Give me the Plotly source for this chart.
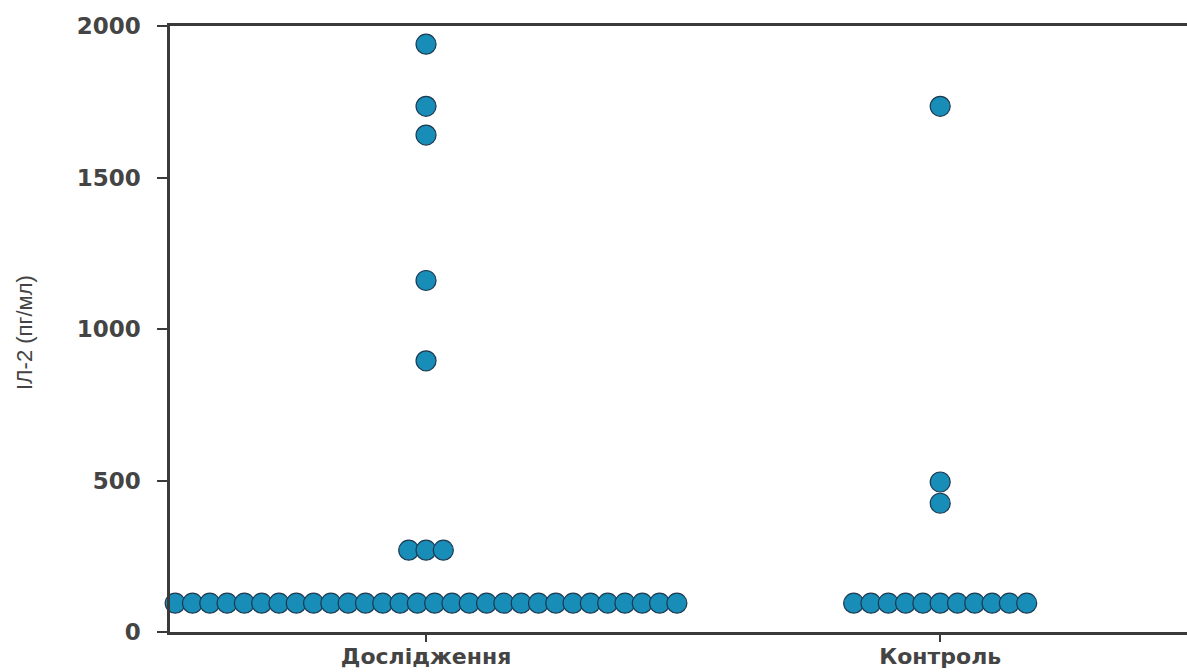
import plotly.graph_objects as go
from collections import Counter

# IL-2 concentrations (pg/ml) per group
categories = ["Дослідження", "Контроль"]
study_values = [95] * 30 + [270, 270, 270, 895, 1160, 1640, 1735, 1940]
control_values = [95] * 11 + [425, 495, 1735]
y_ticks = [0, 500, 1000, 1500, 2000]

W, H = 1187, 672
M_L, M_R, M_T, M_B = 170, 0, 26, 40
X_RANGE = [-0.498, 1.48]
px_per_unit = (W - M_L - M_R) / (X_RANGE[1] - X_RANGE[0])
dot_gap_px = 17.3


def swarm(values, center):
    """Spread identical values side by side around the category centre."""
    counts = Counter(values)
    seen = Counter()
    xs, ys = [], []
    for v in values:
        n = counts[v]
        i = seen[v]
        seen[v] += 1
        off = (i - (n - 1) / 2) * dot_gap_px / px_per_unit
        xs.append(center + off)
        ys.append(v)
    return xs, ys


fig = go.Figure()
for idx, vals in enumerate([study_values, control_values]):
    xs, ys = swarm(vals, idx)
    fig.add_trace(go.Scatter(
        x=xs, y=ys, mode="markers",
        marker=dict(size=20, color="#178db8",
                    line=dict(color="#1d3a52", width=1.2)),
        cliponaxis=False, showlegend=False,
        hovertemplate="%{y}<extra>" + categories[idx] + "</extra>",
    ))

axis_col = "#3a3a3a"
label_col = "#444444"
font_fam = "'DejaVu Sans', sans-serif"

fig.update_layout(
    width=W, height=H,
    margin=dict(l=M_L, r=M_R, t=M_T, b=M_B),
    plot_bgcolor="white", paper_bgcolor="white",
    font=dict(family=font_fam, color=label_col),
    xaxis=dict(
        range=X_RANGE, tickvals=[0, 1], ticktext=categories,
        showgrid=False, zeroline=False, automargin=False,
        showline=True, linecolor=axis_col, linewidth=2.5, mirror=True,
        ticks="outside", ticklen=7, tickwidth=1.5, tickcolor=axis_col,
        tickfont=dict(size=22, color=label_col, weight=600),
        ticklabelstandoff=-4,
    ),
    yaxis=dict(
        range=[0, 2000], tickvals=y_ticks,
        showgrid=False, zeroline=False, automargin=False,
        showline=True, linecolor=axis_col, linewidth=2.5, mirror=False,
        ticks="outside", ticklen=10, tickwidth=2, tickcolor=axis_col,
        tickfont=dict(size=23, color=label_col, weight=600),
        ticklabelstandoff=12,
    ),
    annotations=[dict(
        text="ІЛ-2 (пг/мл)", textangle=-90,
        xref="paper", yref="paper",
        x=(24 - M_L) / (W - M_L - M_R), y=(H - M_B - 333) / (H - M_T - M_B),
        xanchor="center", yanchor="middle", showarrow=False,
        font=dict(family="'Liberation Sans Narrow', 'Liberation Sans', sans-serif",
                  size=22, color=label_col),
    )],
)

fig.write_html("out.html")
